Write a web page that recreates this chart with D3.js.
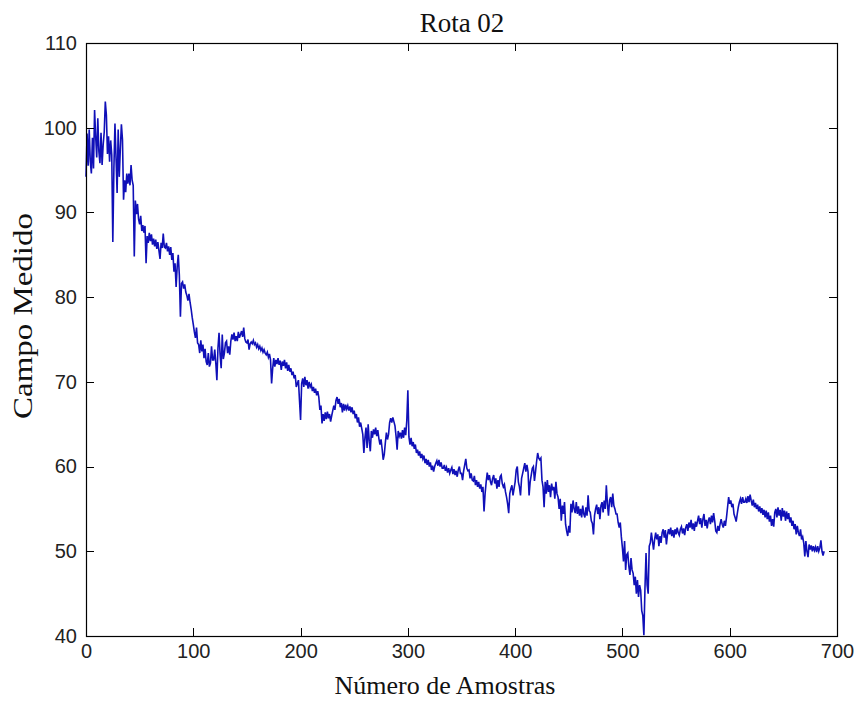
<!DOCTYPE html>
<html>
<head>
<meta charset="utf-8">
<script src="https://cdn.jsdelivr.net/npm/d3@7"></script>
<style>
  body { margin: 0; background: #fff; }
  .tick text { font-family: "Liberation Sans", Arial, sans-serif; font-size: 20px; fill: #222; }
  .lbl { font-family: "Liberation Serif", "Times New Roman", serif; fill: #111; }
</style>
</head>
<body>
<svg id="chart" width="862" height="706"></svg>
<script>
// Texts
const chartTitle = "Rota 02";
const xTitle = "Número de Amostras";
const yTitle = "Campo Medido";

// Tick values
const xTickValues = [0, 100, 200, 300, 400, 500, 600, 700];
const yTickValues = [40, 50, 60, 70, 80, 90, 100, 110];

// Measured field, one value per sample (sample index = array position)
const campoMedido = [
  94.2, 99.3, 95.5, 99.8, 96.0, 94.6, 98.8, 95.2, 102.1, 99.0,
  96.5, 101.1, 97.2, 95.8, 99.4, 95.6, 98.0, 99.5, 103.1, 101.5,
  96.9, 99.0, 96.0, 98.5, 96.8, 86.5, 95.2, 100.5, 96.4, 92.3,
  99.8, 94.2, 97.5, 100.4, 98.6, 91.5, 93.8, 92.4, 94.6, 93.4,
  94.6, 93.2, 95.6, 93.8, 93.2, 84.8, 91.4, 89.8, 91.0, 89.2,
  88.6, 89.6, 87.8, 88.5, 87.6, 88.4, 84.0, 87.2, 86.4, 87.6,
  86.6, 87.4, 86.2, 86.9, 86.0, 86.8, 85.7, 86.5, 85.5, 84.5,
  86.4, 85.8, 87.5, 85.9, 85.8, 86.4, 85.4, 86.0, 85.0, 85.9,
  84.4, 85.2, 83.0, 84.0, 81.2, 83.6, 85.0, 82.6, 77.7, 81.6,
  81.8, 81.0, 81.5, 80.6, 80.2, 79.6, 80.4, 79.4, 78.6, 77.6,
  76.8, 75.9, 75.2, 76.4, 74.6, 74.4, 73.4, 74.9, 73.6, 74.4,
  72.8, 73.9, 72.4, 72.0, 73.4, 71.8, 72.2, 74.2, 72.6, 72.6,
  73.8, 72.2, 70.2, 74.0, 75.8, 73.2, 71.6, 75.6, 72.7, 73.4,
  74.6, 74.8, 73.4, 74.2, 73.2, 74.8, 75.6, 75.0, 75.8, 74.8,
  75.4, 74.8, 75.9, 75.2, 75.6, 76.0, 75.3, 76.4, 75.1, 74.7,
  74.6, 75.0, 73.8, 74.5, 74.7, 74.5, 74.9, 74.4, 74.6, 74.1,
  74.4, 73.9, 74.2, 73.7, 74.0, 73.5, 73.8, 73.4, 73.2, 73.5,
  72.9, 73.3, 72.6, 69.8, 71.6, 72.8, 71.8, 72.6, 72.1, 72.8,
  72.0, 72.5, 71.4, 72.4, 71.9, 72.6, 71.6, 72.3, 71.3, 72.0,
  71.2, 71.6, 70.8, 71.2, 70.4, 70.8, 69.4, 69.8, 70.2, 67.8,
  65.5, 69.8, 70.4, 69.4, 70.6, 69.6, 70.2, 69.2, 70.0, 69.4,
  69.7, 68.9, 69.4, 68.7, 69.2, 68.4, 68.9, 68.2, 66.7, 67.2,
  65.1, 66.2, 65.4, 66.4, 65.6, 66.5, 65.7, 66.2, 65.3, 66.0,
  66.6, 67.2, 66.7, 67.8, 68.2, 67.4, 68.0, 67.0, 67.5, 66.4,
  67.4, 66.6, 67.3, 66.8, 67.2, 66.6, 67.1, 66.4, 67.0, 66.2,
  66.6, 65.7, 66.2, 65.2, 65.8, 64.7, 65.2, 64.5, 63.8, 61.6,
  63.4, 64.6, 62.2, 65.0, 63.0, 61.8, 64.2, 63.4, 64.4, 63.8,
  64.6, 63.6, 64.3, 63.3, 62.6, 63.2, 62.1, 60.8, 61.4, 62.8,
  64.0, 63.2, 63.8, 65.2, 65.7, 65.2, 65.8, 65.3, 64.8, 63.6,
  62.0, 64.2, 63.6, 64.0, 63.3, 64.3, 63.4, 64.6, 63.7, 65.4,
  69.0, 63.5, 62.6, 63.4, 62.4, 62.9, 62.1, 62.6, 61.6, 62.0,
  61.3, 61.8, 61.0, 61.5, 60.9, 61.3, 60.4, 60.9, 60.2, 60.8,
  60.0, 60.5, 59.6, 60.1, 59.4, 60.0, 60.4, 60.7, 60.1, 60.8,
  60.0, 60.5, 59.8, 59.8, 60.2, 59.5, 59.9, 59.3, 59.8, 59.2,
  59.6, 59.9, 59.1, 59.7, 59.0, 59.5, 58.8, 59.6, 60.0, 59.2,
  59.2, 58.4, 59.5, 60.2, 60.9, 59.8, 59.5, 59.6, 58.6, 59.2,
  58.4, 58.3, 58.9, 57.8, 58.4, 57.6, 58.2, 57.4, 57.9, 57.0,
  57.6, 54.7, 56.8, 58.2, 59.3, 58.4, 59.0, 58.2, 57.8, 58.6,
  59.0, 58.0, 58.6, 57.4, 58.4, 57.6, 58.8, 59.0, 58.0, 57.6,
  57.9, 57.0, 56.4, 55.6, 54.5, 56.8, 57.4, 57.8, 56.6, 57.4,
  58.2, 59.6, 60.0, 58.2, 57.6, 56.6, 58.6, 59.2, 59.8, 60.4,
  59.4, 60.2, 59.4, 56.6, 58.2, 59.0, 59.8, 60.0, 58.3, 59.4,
  60.6, 61.6, 61.0, 60.8, 61.0, 58.4, 57.6, 55.2, 58.2, 56.8,
  58.4, 57.0, 57.8, 56.4, 58.0, 57.2, 57.6, 56.2, 58.2, 56.8,
  56.4, 55.0, 56.2, 53.6, 55.4, 54.4, 55.8, 53.2, 52.4, 51.8,
  53.0, 52.2, 55.6, 54.6, 56.0, 55.0, 54.5, 55.8, 54.4, 55.3,
  54.2, 55.0, 54.0, 55.4, 54.4, 54.0, 55.2, 54.2, 56.6, 54.8,
  54.6, 53.6, 53.3, 52.0, 54.2, 55.0, 55.5, 54.4, 55.2, 53.8,
  55.4, 55.8, 54.6, 56.0, 55.0, 57.8, 55.6, 54.2, 56.0, 56.4,
  55.2, 56.8, 55.4, 55.0, 54.4, 54.4, 53.4, 52.8, 53.4, 51.7,
  50.4, 48.8, 51.2, 47.8, 49.6, 49.8, 48.2, 47.2, 49.2, 47.8,
  47.4, 46.0, 47.0, 45.0, 46.6, 44.6, 46.0, 45.4, 43.0, 42.4,
  40.1, 45.6, 49.8, 46.0, 45.0, 50.6, 51.0, 52.2, 51.2, 50.2,
  51.4, 52.2, 51.4, 52.0, 50.6, 51.8, 51.0, 52.2, 52.6, 51.6,
  52.5, 50.8, 52.0, 52.6, 52.0, 52.8, 51.8, 52.5, 51.6, 52.6,
  52.0, 52.8, 52.2, 51.9, 52.6, 52.9, 52.1, 52.7, 51.9, 52.8,
  53.2, 52.4, 53.4, 52.8, 53.7, 52.6, 53.3, 52.4, 53.5, 52.9,
  53.6, 54.2, 53.2, 53.9, 52.8, 53.8, 54.4, 53.0, 53.7, 52.7,
  53.6, 54.0, 53.2, 54.2, 53.4, 54.5, 53.6, 52.4, 52.2, 53.0,
  52.4, 53.2, 53.8, 53.2, 52.8, 53.6, 53.0, 54.0, 55.2, 56.4,
  55.6, 56.0, 55.2, 55.6, 54.4, 54.0, 53.5, 54.4, 55.2, 55.8,
  56.2, 55.6, 56.4, 55.8, 55.8, 56.2, 55.7, 56.5, 55.8, 56.7,
  56.0, 55.4, 56.1, 55.2, 55.7, 55.0, 55.5, 54.7, 55.3, 54.5,
  55.1, 54.3, 54.9, 54.0, 54.8, 53.8, 54.6, 53.5, 54.2, 53.0,
  53.8, 52.9, 54.6, 55.0, 54.0, 55.2, 54.2, 54.9, 53.6, 55.1,
  54.1, 54.8, 53.6, 54.7, 53.8, 54.5, 53.4, 54.0, 53.0, 53.6,
  52.6, 53.2, 52.0, 53.0, 52.2, 51.8, 52.6, 51.4, 51.7, 51.0,
  49.4, 51.2, 50.0, 49.3, 50.8, 50.2, 50.7, 50.0, 50.6, 50.1,
  50.5, 49.9, 50.6, 50.0, 50.4, 51.3, 50.0, 49.5, 50.0
];

const svg = d3.select("#chart");
const plot = { left: 86, right: 837, top: 43, bottom: 636 };

const x = d3.scaleLinear().domain([0, 700]).range([plot.left, plot.right]);
const y = d3.scaleLinear().domain([40, 110]).range([plot.bottom, plot.top]);

// Data line
const line = d3.line()
  .x((d, i) => x(i))
  .y(d => y(d));

svg.append("path")
  .datum(campoMedido)
  .attr("fill", "none")
  .attr("stroke", "#1010b8")
  .attr("stroke-width", 1.6)
  .attr("stroke-linejoin", "miter")
  .attr("d", line);

// Axes with inward ticks on all four sides
const tickLen = 8;
const axisStyle = g => {
  g.select(".domain").remove();
  g.selectAll(".tick line").attr("stroke", "#000").attr("shape-rendering", "crispEdges");
};

svg.append("g")
  .attr("transform", `translate(0,${plot.bottom})`)
  .call(d3.axisBottom(x).tickValues(xTickValues).tickSizeInner(-tickLen).tickSizeOuter(0).tickPadding(8))
  .call(axisStyle);

svg.append("g")
  .attr("transform", `translate(0,${plot.top})`)
  .call(d3.axisTop(x).tickValues(xTickValues).tickSizeInner(-tickLen).tickSizeOuter(0).tickFormat(""))
  .call(axisStyle);

svg.append("g")
  .attr("transform", `translate(${plot.left},0)`)
  .call(d3.axisLeft(y).tickValues(yTickValues).tickSizeInner(-tickLen).tickSizeOuter(0).tickPadding(9))
  .call(axisStyle);

svg.append("g")
  .attr("transform", `translate(${plot.right},0)`)
  .call(d3.axisRight(y).tickValues(yTickValues).tickSizeInner(-tickLen).tickSizeOuter(0).tickFormat(""))
  .call(axisStyle);

svg.selectAll(".tick text").attr("font-family", null).attr("font-size", null);

// Plot frame
svg.append("rect")
  .attr("x", plot.left + 0.5)
  .attr("y", plot.top + 0.5)
  .attr("width", plot.right - plot.left)
  .attr("height", plot.bottom - plot.top)
  .attr("fill", "none")
  .attr("stroke", "#000")
  .attr("stroke-width", 1.2);

// Titles
svg.append("text")
  .attr("class", "lbl")
  .attr("x", 462)
  .attr("y", 32)
  .attr("text-anchor", "middle")
  .attr("font-size", 27)
  .text(chartTitle);

svg.append("text")
  .attr("class", "lbl")
  .attr("x", 445)
  .attr("y", 694)
  .attr("text-anchor", "middle")
  .attr("font-size", 26)
  .text(xTitle);

svg.append("text")
  .attr("class", "lbl")
  .attr("transform", "translate(32,316) rotate(-90) scale(1.22,1)")
  .attr("text-anchor", "middle")
  .attr("font-size", 27)
  .text(yTitle);
</script>
</body>
</html>
